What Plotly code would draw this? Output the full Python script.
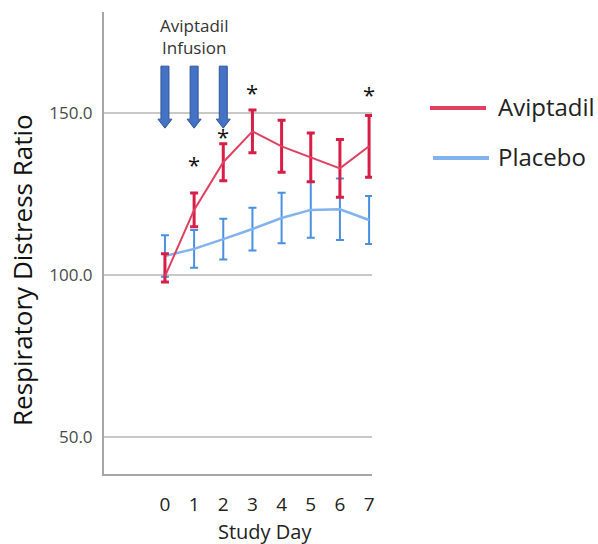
import plotly.graph_objects as go

# Study days and group means with their error bars
days = [0, 1, 2, 3, 4, 5, 6, 7]
day_labels = ["0", "1", "2", "3", "4", "5", "6", "7"]

avip_mean = [99.5, 120.0, 134.7, 144.2, 139.6, 136.2, 132.8, 139.6]
avip_err_hi = [7.0, 5.2, 5.7, 6.6, 8.0, 7.5, 8.9, 9.5]
avip_err_lo = [1.7, 5.2, 5.7, 6.6, 8.0, 7.5, 8.9, 9.5]

plac_mean = [105.8, 108.0, 111.0, 114.1, 117.5, 120.0, 120.2, 116.9]
plac_err = [6.4, 5.8, 6.3, 6.6, 7.8, 8.6, 9.5, 7.4]

# Days flagged as significant, and the height of each asterisk
star_days = [1, 2, 3, 7]
star_y = [134.2, 142.8, 156.4, 155.8]

# Infusion days marked with arrows
infusion_days = [0, 1, 2]

y_ticks = [50, 100, 150]
y_tick_text = ["50.0", "100.0", "150.0"]

W, H = 598, 544
ML, MR, MT, MB = 104, 226, 12, 70
XR = [-2.09, 7.1]
YR = [38.6, 181.0]
PW, PH = W - ML - MR, H - MT - MB

FONT = "Open Sans"
RED_LINE, RED_BAR = "#E23F61", "#D61E46"
BLUE_LINE, BLUE_BAR = "#82B3EE", "#4A90E2"
ARROW_FILL, ARROW_EDGE = "#4472C4", "#2F5597"


def px_to_dx(px):
    return px * (XR[1] - XR[0]) / PW


def px_to_dy(px):
    return px * (YR[1] - YR[0]) / PH


def paper_x(px):
    return (px - ML) / PW


def paper_y(py):
    return (H - MB - py) / PH


fig = go.Figure()

fig.add_trace(go.Scatter(
    x=days, y=plac_mean, mode="lines", name="Placebo",
    line=dict(color=BLUE_LINE, width=2.5),
    error_y=dict(type="data", array=plac_err, color=BLUE_BAR,
                 thickness=2, width=4),
    showlegend=False,
))
fig.add_trace(go.Scatter(
    x=days, y=avip_mean, mode="lines", name="Aviptadil",
    line=dict(color=RED_LINE, width=2),
    error_y=dict(type="data", array=avip_err_hi, arrayminus=avip_err_lo,
                 color=RED_BAR, thickness=3, width=4),
    showlegend=False,
))

# Downward block arrows over the infusion days
shaft_half, head_half = px_to_dx(4), px_to_dx(7)
arrow_tip = 145.2
arrow_top = arrow_tip + px_to_dy(62)
head_base = arrow_tip + px_to_dy(9)
for d in infusion_days:
    path = (f"M {d - shaft_half} {arrow_top} L {d + shaft_half} {arrow_top} "
            f"L {d + shaft_half} {head_base} L {d + head_half} {head_base} "
            f"L {d} {arrow_tip} L {d - head_half} {head_base} "
            f"L {d - shaft_half} {head_base} Z")
    fig.add_shape(type="path", path=path, xref="x", yref="y",
                  fillcolor=ARROW_FILL, line=dict(color=ARROW_EDGE, width=1))

annotations = []
for d, sy in zip(star_days, star_y):
    annotations.append(dict(x=d, y=sy, xref="x", yref="y", text="*",
                            showarrow=False, yanchor="middle",
                            font=dict(family=FONT, size=22, color="#111")))

annotations.append(dict(x=1, y=173.5, xref="x", yref="y",
                        text="Aviptadil<br>Infusion", showarrow=False,
                        font=dict(family=FONT, size=17, color="#333")))

annotations.append(dict(x=0, y=paper_y(270), xref="paper", yref="paper",
                        xshift=-(ML - 22), text="Respiratory Distress Ratio",
                        textangle=-90, showarrow=False,
                        xanchor="center", yanchor="middle",
                        font=dict(family=FONT, size=26, color="#111")))

annotations.append(dict(x=paper_x(265), y=0, xref="paper", yref="paper",
                        yshift=-57, text="Study Day", showarrow=False,
                        xanchor="center", yanchor="middle",
                        font=dict(family=FONT, size=20, color="#222")))

# Legend drawn as line samples with labels
legend_items = [("Aviptadil", RED_LINE, 430, 108),
                ("Placebo", BLUE_LINE, 433, 158)]
for label, color, x0, yy in legend_items:
    fig.add_shape(type="line", xref="paper", yref="paper",
                  x0=paper_x(x0), x1=paper_x(x0 + 56),
                  y0=paper_y(yy), y1=paper_y(yy),
                  line=dict(color=color, width=4))
    annotations.append(dict(x=paper_x(496), y=paper_y(yy - 2),
                            xref="paper", yref="paper", text=label,
                            showarrow=False, xanchor="left", yanchor="middle",
                            font=dict(family=FONT, size=24, color="#222")))

fig.update_layout(
    width=W, height=H,
    margin=dict(l=ML, r=MR, t=MT, b=MB),
    paper_bgcolor="white", plot_bgcolor="white",
    showlegend=False,
    annotations=annotations,
    xaxis=dict(range=XR, tickvals=days, ticktext=day_labels,
               showgrid=False, zeroline=False,
               showline=True, linecolor="#a6a6a6", linewidth=2,
               ticks="outside", ticklen=12, tickcolor="rgba(0,0,0,0)",
               tickfont=dict(family=FONT, size=19, color="#222")),
    yaxis=dict(range=YR, tickvals=y_ticks, ticktext=y_tick_text,
               showgrid=True, gridcolor="#c8c8c8", gridwidth=2,
               zeroline=False,
               showline=True, linecolor="#a6a6a6", linewidth=2,
               ticks="outside", ticklen=6, tickcolor="rgba(0,0,0,0)",
               tickfont=dict(family=FONT, size=17, color="#4a4a4a")),
)

fig.write_html("out.html")
